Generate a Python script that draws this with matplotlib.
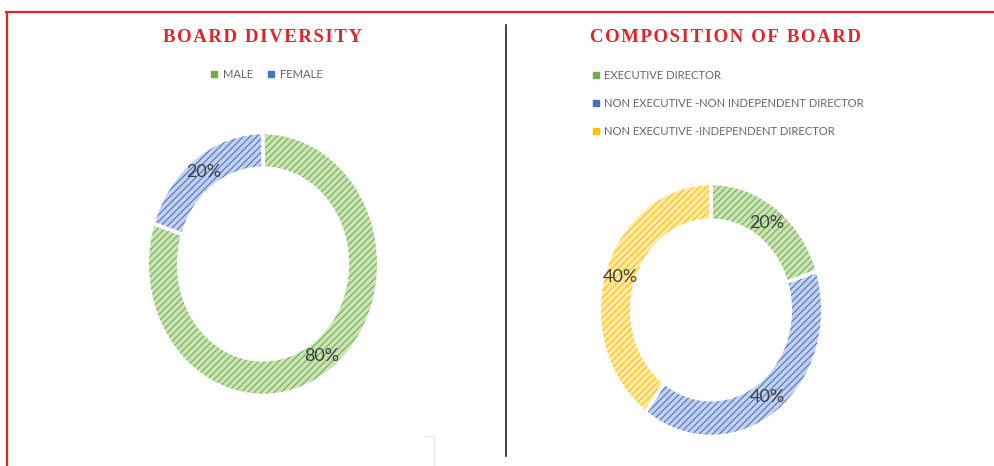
import matplotlib.pyplot as plt
from matplotlib.lines import Line2D

# board diversity
div_labels = ['MALE', 'FEMALE']
div_values = [80, 20]

# composition of board
comp_labels = ['EXECUTIVE DIRECTOR',
               'NON EXECUTIVE -NON INDEPENDENT DIRECTOR',
               'NON EXECUTIVE -INDEPENDENT DIRECTOR']
comp_values = [20, 40, 40]

titles = ['BOARD DIVERSITY', 'COMPOSITION OF BOARD']

green = ('#c9e3b6', '#70ad47')
blue = ('#c3d1ec', '#4472c4')
yellow = ('#ffe9a6', '#ffc000')

red = '#e3222b'
txt_col = '#404040'
leg_col = '#666666'

plt.rcParams['hatch.linewidth'] = 0.75

W, H = 994, 466
fig = plt.figure(figsize=(W / 100, H / 100), dpi=100)
fig.set_facecolor('white')


def px_axes(cx, cy, rx, ry):
    # axes placed in pixel coords (y from top), ring stretched like the source
    return fig.add_axes([(cx - rx) / W, (H - cy - ry) / H, 2 * rx / W, 2 * ry / H])


def donut(ax, values, cols, width):
    wedges, _, autotexts = ax.pie(values, startangle=90, counterclock=False,
                                  radius=1, autopct='%d%%',
                                  pctdistance=1 - width / 2,
                                  wedgeprops=dict(width=width, linewidth=0),
                                  textprops=dict(color=txt_col, fontsize=13,
                                                 family='Lato'))
    for w, c in zip(wedges, cols):
        w.set_facecolor(c[0])
        w.set_edgecolor(c[1])
        w.set_hatch('/////')
    # white gaps between slices
    ax.pie(values, startangle=90, counterclock=False, radius=1,
           wedgeprops=dict(width=width, fill=False, edgecolor='white', linewidth=2.5))
    ax.set_xlim(-1.02, 1.02)
    ax.set_ylim(-1.02, 1.02)
    ax.set_aspect('auto')
    ax.axis('off')


ax1 = px_axes(263, 264, 118, 134)
donut(ax1, div_values, [green, blue], 0.27)

ax2 = px_axes(711, 310, 114, 129)
donut(ax2, comp_values, [green, blue, yellow], 0.29)


def spaced(s):
    # letter spacing with hair spaces
    return '\u200a'.join(s)


# titles
for x, t in zip([263, 725], titles):
    fig.text(x / W, 1 - 38 / H, spaced(t), ha='center', va='center',
             color=red, fontsize=13.5, fontweight='bold',
             family=['Liberation Serif', 'DejaVu Serif'])

# legends
def handles(cols):
    return [Line2D([], [], marker='s', linestyle='', markersize=4.5, color=c[1]) for c in cols]

leg1 = fig.legend(handles([green, blue]), div_labels, ncol=2, frameon=False,
                  loc='center', bbox_to_anchor=(267 / W, 1 - 74 / H),
                  prop=dict(family='Lato', size=8.1), handlelength=0.6, handletextpad=0.5,
                  columnspacing=1.3, labelcolor=leg_col)
leg2 = fig.legend(handles([green, blue, yellow]), comp_labels, ncol=1, frameon=False,
                  loc='upper left', bbox_to_anchor=(582 / W, 1 - 60 / H),
                  prop=dict(family='Lato', size=8.1), handlelength=0.6, handletextpad=0.5,
                  labelspacing=1.52, labelcolor=leg_col)

# frame lines
fig.add_artist(Line2D([6 / W, 1], [1 - 11.5 / H] * 2, color=red, linewidth=1.6))
fig.add_artist(Line2D([6.5 / W] * 2, [0, 1 - 11.5 / H], color=red, linewidth=1.6))
fig.add_artist(Line2D([506 / W] * 2, [1 - 25 / H, 1 - 456 / H], color='#222222', linewidth=1.2))
fig.add_artist(Line2D([426 / W, 434 / W, 434 / W], [1 - 436 / H, 1 - 436 / H, 0],
                      color='#e4e4e4', linewidth=0.8))

plt.savefig('out.png', dpi=100, facecolor='white')
